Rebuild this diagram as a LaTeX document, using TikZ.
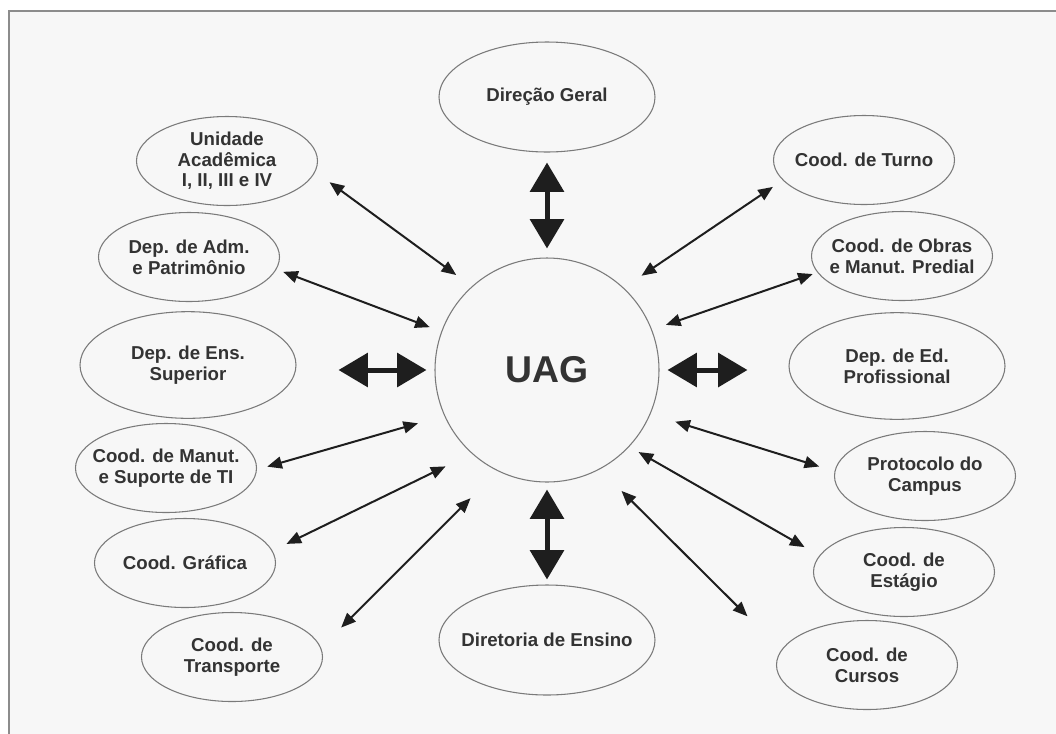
\documentclass[tikz,border=0pt]{standalone}
\usepackage{fontspec}
\setmainfont{Liberation Sans}
\usetikzlibrary{shapes.geometric,arrows.meta}
\definecolor{bggray}{HTML}{F7F7F7}
\definecolor{framegray}{HTML}{8C8C8C}
\definecolor{linegray}{HTML}{7A7A7A}
\definecolor{textgray}{HTML}{333333}
\definecolor{arrowblack}{HTML}{1E1E1E}
\begin{document}
\begin{tikzpicture}[x=0.75pt,y=-0.75pt,
  sat/.style={ellipse,draw=linegray,line width=0.8pt,inner xsep=-12pt,inner ysep=-6pt,
    align=center,text=textgray,font=\fontsize{14}{15.5}\selectfont\bfseries,
    minimum width=135.75pt,minimum height=66.75pt},
  wide/.style={sat,minimum width=162pt,minimum height=80pt},
  link/.style={{Triangle[length=11pt,width=9pt]}-{Triangle[length=11pt,width=9pt]},
    line width=1.5pt,draw=arrowblack},
  bigarrow/.style={{Triangle[length=22pt,width=25pt]}-{Triangle[length=22pt,width=25pt]},
    line width=3.75pt,draw=arrowblack}]
  \useasboundingbox (0,0) rectangle (1056,733);
  \clip (0,0) rectangle (1056,733);
  % frame
  \fill[bggray] (9,11) rectangle (1070,745);
  \draw[framegray,line width=1.5pt] (1070,11) -- (9,11) -- (9,745);

  % centre
  \node[circle,draw=linegray,line width=0.8pt,minimum size=168pt,inner sep=0pt,
    text=textgray,font=\fontsize{28}{30}\selectfont\bfseries] (uag) at (547,370) {UAG};

  % top and bottom
  \node[wide,minimum height=82.5pt] (dirgeral) at (547,97) {Direção Geral};
  \node[wide,minimum height=82.5pt] (diretoria) at (547,640) {Diretoria de Ensino};

  % left column
  \node[sat] (unidade) at (227,161) {Unidade\\Acadêmica\\I, II, III e IV};
  \node[sat] (depadm) at (189,257) {Dep. de Adm.\\e Patrimônio};
  \node[wide] (depens) at (188,365) {Dep. de Ens.\\Superior};
  \node[sat] (manut) at (166,468) {Cood. de Manut.\\e Suporte de TI};
  \node[sat] (grafica) at (185,563) {Cood. Gráfica};
  \node[sat] (transporte) at (232,657) {Cood. de\\Transporte};

  % right column
  \node[sat] (turno) at (864,160) {Cood. de Turno};
  \node[sat] (obras) at (902,256) {Cood. de Obras\\e Manut. Predial};
  \node[wide] (depedprof) at (897,366) {Dep. de Ed.\\Profissional};
  \node[sat] (protocolo) at (925,476) {Protocolo do\\Campus};
  \node[sat] (estagio) at (904,572) {Cood. de\\Estágio};
  \node[sat] (cursos) at (867,665) {Cood. de\\Cursos};

  % thick arrows
  \draw[bigarrow,shorten <=7.5pt,shorten >=6.75pt] (dirgeral.south) -- (uag.north);
  \draw[bigarrow,shorten <=5.25pt,shorten >=3.75pt] (uag.south) -- (diretoria.north);
  \draw[bigarrow,shorten <=31.5pt,shorten >=6pt] (uag.west -| depens.east) -- (uag.west);
  \draw[bigarrow,shorten <=6pt,shorten >=30.75pt] (uag.east) -- (uag.east -| depedprof.west);

  % thin arrows
  \foreach \sat/\a/\b/\s/\t in {unidade/-7.7/132.4/13.2/14.4, depadm/-8.1/160.4/5.3/9.2,
      manut/-1.9/204.5/8.0/20.4, grafica/8.8/228.2/11.6/21.8,
      transporte/6.6/244.8/21.3/28.7, turno/194.1/47.9/8.9/16.1,
      obras/191.8/21.7/3.6/11.0, protocolo/177.9/-23.9/12.0/19.4,
      estagio/169.6/-43.9/12.7/8.0, cursos/170.3/-62.8/35.7/22.9}
    \draw[link,shorten <=\s pt,shorten >=\t pt] (\sat.\a) -- (uag.\b);
\end{tikzpicture}
\end{document}
